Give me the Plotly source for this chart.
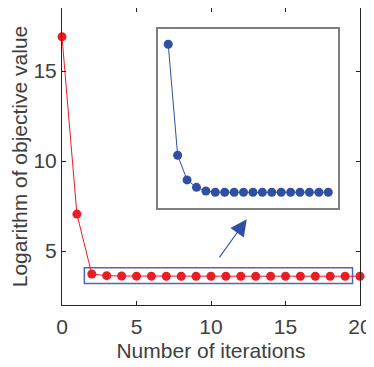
import plotly.graph_objects as go

# data
iterations = list(range(0, 21))
log_objective = [16.90, 7.05, 3.720, 3.630, 3.610, 3.604, 3.601, 3.600, 3.600, 3.600,
                 3.600, 3.600, 3.600, 3.600, 3.600, 3.600, 3.600, 3.600, 3.600, 3.600, 3.600]

# zoomed part (iterations 2..19)
zoom_iters = iterations[2:20]
zoom_values = log_objective[2:20]

x_ticks = [0, 5, 10, 15, 20]
y_ticks = [5, 10, 15]

RED = "#ea1d25"
BLUE = "#2f4fa2"
AXC = "#262626"
TXT = "#404040"
FONT = "Liberation Sans, Arial, sans-serif"

fig = go.Figure()

fig.add_trace(go.Scatter(
    x=iterations, y=log_objective, mode="lines+markers",
    line=dict(color=RED, width=1), marker=dict(color=RED, size=9),
    xaxis="x", yaxis="y", showlegend=False, cliponaxis=False))

fig.add_trace(go.Scatter(
    x=zoom_iters, y=zoom_values, mode="lines+markers",
    line=dict(color=BLUE, width=1), marker=dict(color=BLUE, size=9),
    xaxis="x2", yaxis="y2", showlegend=False))

# box around the zoomed region
fig.add_shape(type="rect", xref="x", yref="y", x0=1.5, x1=19.5, y0=3.2, y1=4.07,
              line=dict(color="#4a6ab8", width=1.5), layer="below")

# arrow pointing to the inset
fig.add_annotation(x=12.4, y=6.76, ax=10.49, ay=4.56, xref="x", yref="y",
                   axref="x", ayref="y", showarrow=True, arrowhead=2,
                   arrowsize=3, arrowwidth=1.1, arrowcolor=BLUE, text="")

# page body has an 8px margin, so the figure is sized to fit in the window
fig.update_layout(
    width=366, height=359,
    margin=dict(l=54, r=14, t=0, b=62),
    paper_bgcolor="white", plot_bgcolor="white",
    font=dict(family=FONT, size=21, color=TXT),
    xaxis=dict(range=[0, 20], tickvals=x_ticks, ticks="inside", ticklen=4,
               tickfont=dict(size=21, color=TXT), ticklabelstandoff=3,
               showline=True, mirror="ticks", linecolor=AXC, linewidth=1,
               tickcolor=AXC, showgrid=False, zeroline=False, automargin=False,
               title=dict(text="Number of iterations", standoff=6,
                          font=dict(size=21, color=TXT))),
    yaxis=dict(range=[2, 18.5], tickvals=y_ticks, ticks="inside", ticklen=4,
               tickfont=dict(size=21, color=TXT),
               showline=True, mirror="ticks", linecolor=AXC, linewidth=1,
               tickcolor=AXC, showgrid=False, zeroline=False, automargin=False,
               title=dict(text="Logarithm of objective value", standoff=9,
                          font=dict(size=21, color=TXT))),
    xaxis2=dict(domain=[0.323, 0.927], anchor="y2", range=[0.94, 20.06],
                showticklabels=False, ticks="", showline=True, mirror=True,
                linecolor="#7f7f7f", linewidth=1.5, showgrid=False, zeroline=False),
    yaxis2=dict(domain=[0.3276, 0.928], anchor="x2", range=[3.5875, 3.732],
                showticklabels=False, ticks="", showline=True, mirror=True,
                linecolor="#7f7f7f", linewidth=1.5, showgrid=False, zeroline=False),
)

fig.write_html("out.html")
